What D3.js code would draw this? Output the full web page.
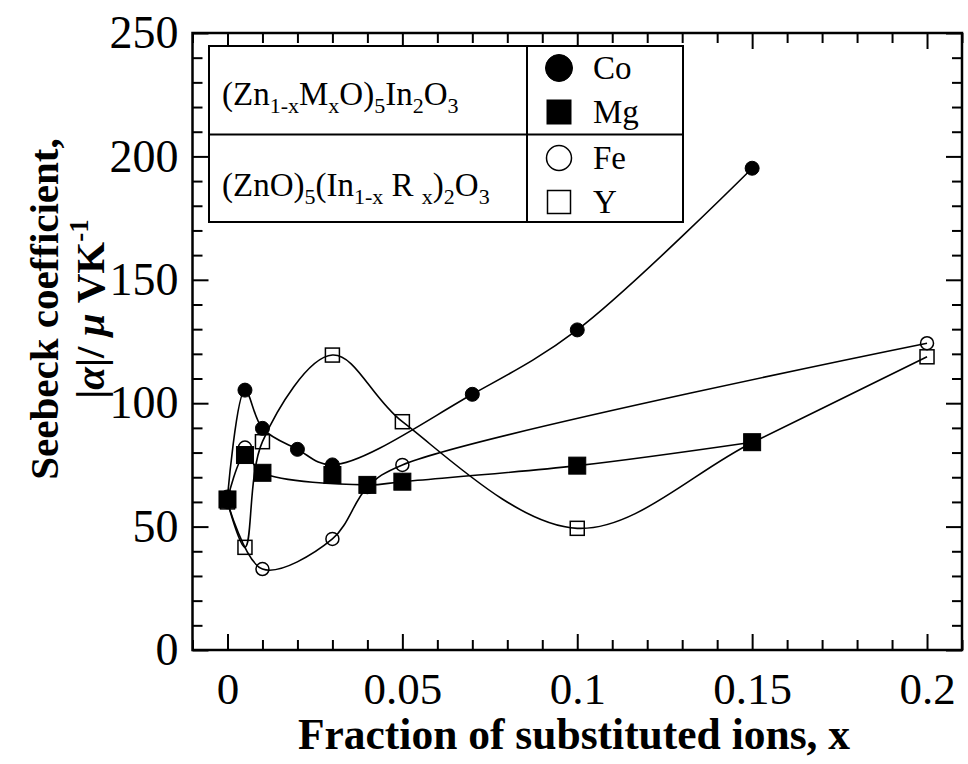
<!DOCTYPE html>
<html>
<head>
<meta charset="utf-8">
<script src="https://cdn.jsdelivr.net/npm/d3@7"></script>
<style>
  html, body { margin: 0; padding: 0; background: #fff; }
  svg { display: block; }
  text { font-family: "Liberation Serif", "Times New Roman", serif; fill: #000; }
</style>
</head>
<body>
<svg id="chart" width="968" height="764"></svg>
<script>
// ---------------- data ----------------
const xTicks = [0, 0.05, 0.1, 0.15, 0.2];
const xTickLabels = ["0", "0.05", "0.1", "0.15", "0.2"];
const yTicks = [0, 50, 100, 150, 200, 250];
const yTickLabels = ["0", "50", "100", "150", "200", "250"];

const xCo = [0, 0.005, 0.01, 0.02, 0.03, 0.07, 0.1, 0.15];
const yCo = [62, 105.3, 89.8, 81.3, 75, 103.6, 129.7, 195.2];

const xMg = [0, 0.005, 0.01, 0.03, 0.04, 0.05, 0.1, 0.15];
const yMg = [61, 79, 71.8, 70.9, 66.9, 68.2, 74.7, 84.2];

const xFe = [0, 0.005, 0.01, 0.03, 0.04, 0.05, 0.2];
const yFe = [60, 82, 32.8, 45, 66, 75, 124.3];

const xY = [0, 0.005, 0.01, 0.03, 0.05, 0.1, 0.15, 0.2];
const yY = [60, 41.6, 84.4, 119.5, 92.5, 49.3, 84, 118.8];

// points left out of the smooth guide curve (kept as markers)
const mgOffCurve = [0.03];
const feOffCurve = [0.005];
const coOffCurve = [];
const yOffCurve = [];

const legendNames = ["Co", "Mg", "Fe", "Y"];

// ---------------- layout ----------------
const svg = d3.select("#chart");
const L = 192.5, R = 962, T = 33, B = 650;
const x = d3.scaleLinear().domain([-0.01, 0.21]).range([L, R]);
const y = d3.scaleLinear().domain([0, 250]).range([B, T]);

svg.append("rect").attr("width", 968).attr("height", 764).attr("fill", "#fff");

const xMinor = d3.range(-0.01, 0.2101, 0.01).map(v => +v.toFixed(3)).filter(v => !xTicks.some(t => Math.abs(t - v) < 1e-6));
const yMinor = d3.range(0, 251, 10).filter(v => v % 50 !== 0);

function styleAxis(g) {
  g.select(".domain").remove();
  g.selectAll(".tick line").attr("stroke", "#000").attr("stroke-width", 2);
}
const MAJ = 16, MIN = 10;

// bottom
svg.append("g").attr("transform", `translate(0,${B})`)
  .call(d3.axisBottom(x).tickValues(xTicks).tickSize(-MAJ).tickPadding(22).tickFormat((d, i) => xTickLabels[i]))
  .call(styleAxis)
  .call(g => g.selectAll("text").attr("font-size", 45).attr("font-family", "Liberation Serif"));
svg.append("g").attr("transform", `translate(0,${B})`)
  .call(d3.axisBottom(x).tickValues(xMinor).tickSize(-MIN).tickFormat(""))
  .call(styleAxis);
// top
svg.append("g").attr("transform", `translate(0,${T})`)
  .call(d3.axisTop(x).tickValues(xTicks).tickSize(-MAJ).tickFormat(""))
  .call(styleAxis);
svg.append("g").attr("transform", `translate(0,${T})`)
  .call(d3.axisTop(x).tickValues(xMinor).tickSize(-MIN).tickFormat(""))
  .call(styleAxis);
// left
svg.append("g").attr("transform", `translate(${L},0)`)
  .call(d3.axisLeft(y).tickValues(yTicks).tickSize(-MAJ).tickPadding(14).tickFormat((d, i) => yTickLabels[i]))
  .call(styleAxis)
  .call(g => g.selectAll("text").attr("font-size", 46).attr("font-family", "Liberation Serif"));
svg.append("g").attr("transform", `translate(${L},0)`)
  .call(d3.axisLeft(y).tickValues(yMinor).tickSize(-MIN).tickFormat(""))
  .call(styleAxis);
// right
svg.append("g").attr("transform", `translate(${R},0)`)
  .call(d3.axisRight(y).tickValues(yTicks).tickSize(-MAJ).tickFormat(""))
  .call(styleAxis);
svg.append("g").attr("transform", `translate(${R},0)`)
  .call(d3.axisRight(y).tickValues(yMinor).tickSize(-MIN).tickFormat(""))
  .call(styleAxis);

// frame
svg.append("rect").attr("x", L).attr("y", T).attr("width", R - L).attr("height", B - T)
  .attr("fill", "none").attr("stroke", "#000").attr("stroke-width", 2.5);

// ---------------- curves ----------------
const line = d3.line().x(d => x(d[0])).y(d => y(d[1])).curve(d3.curveCatmullRom.alpha(0.5));
function curvePts(xs, ys, off) {
  return xs.map((v, i) => [v, ys[i]]).filter(p => !off.some(o => Math.abs(o - p[0]) < 1e-9));
}
const series = [
  { xs: xY, ys: yY, off: yOffCurve, type: "sq", fill: false },
  { xs: xFe, ys: yFe, off: feOffCurve, type: "ci", fill: false },
  { xs: xMg, ys: yMg, off: mgOffCurve, type: "sq", fill: true },
  { xs: xCo, ys: yCo, off: coOffCurve, type: "ci", fill: true }
];
series.forEach(s => {
  svg.append("path").attr("d", line(curvePts(s.xs, s.ys, s.off)))
    .attr("fill", "none").attr("stroke", "#000").attr("stroke-width", 1.6);
});

// ---------------- markers ----------------
series.forEach(s => {
  const pts = s.xs.map((v, i) => [v, s.ys[i]]);
  const g = svg.append("g");
  if (s.type === "ci") {
    g.selectAll("circle").data(pts).join("circle")
      .attr("cx", d => x(d[0])).attr("cy", d => y(d[1]))
      .attr("r", s.fill ? 7 : 6.5)
      .attr("fill", s.fill ? "#000" : "none")
      .attr("stroke", "#000").attr("stroke-width", s.fill ? 1 : 1.5);
  } else {
    const w = s.fill ? 17 : 14;
    g.selectAll("rect").data(pts).join("rect")
      .attr("x", d => x(d[0]) - w / 2).attr("y", d => y(d[1]) - w / 2)
      .attr("width", w).attr("height", w)
      .attr("fill", s.fill ? "#000" : "none")
      .attr("stroke", "#000").attr("stroke-width", s.fill ? 1 : 1.5);
  }
});

// ---------------- legend ----------------
const lg = svg.append("g");
lg.append("rect").attr("x", 209).attr("y", 46).attr("width", 474).attr("height", 176)
  .attr("fill", "#fff").attr("stroke", "#000").attr("stroke-width", 2);
lg.append("line").attr("x1", 209).attr("x2", 683).attr("y1", 134.5).attr("y2", 134.5).attr("stroke", "#000").attr("stroke-width", 2);
lg.append("line").attr("x1", 527).attr("x2", 527).attr("y1", 46).attr("y2", 222).attr("stroke", "#000").attr("stroke-width", 2);

function chem(parent, xPos, yPos, parts) {
  const t = parent.append("text").attr("x", xPos).attr("y", yPos).attr("font-size", 33);
  let shift = 0;
  parts.forEach(p => {
    const sub = p[1];
    const target = sub ? 8 : 0;
    t.append("tspan").attr("dy", target - shift).attr("font-size", sub ? 22 : 33).text(p[0]);
    shift = target;
  });
  return t;
}
chem(lg, 222, 105, [["(Zn", 0], ["1-x", 1], ["M", 0], ["x", 1], ["O)", 0], ["5", 1], ["In", 0], ["2", 1], ["O", 0], ["3", 1]]);
chem(lg, 222, 196, [["(ZnO)", 0], ["5", 1], ["(In", 0], ["1-x", 1], ["\u00a0R\u00a0", 0], ["x", 1], [")", 0], ["2", 1], ["O", 0], ["3", 1]]);

const legY = [68, 112, 158, 202];
const legType = [["ci", true], ["sq", true], ["ci", false], ["sq", false]];
legendNames.forEach((n, i) => {
  const [tp, f] = legType[i];
  if (tp === "ci") {
    lg.append("circle").attr("cx", 559).attr("cy", legY[i]).attr("r", f ? 13.5 : 12.5)
      .attr("fill", f ? "#000" : "none").attr("stroke", "#000").attr("stroke-width", f ? 1 : 1.5);
  } else {
    const w = f ? 24 : 23;
    lg.append("rect").attr("x", 559 - w / 2).attr("y", legY[i] - w / 2).attr("width", w).attr("height", w)
      .attr("fill", f ? "#000" : "none").attr("stroke", "#000").attr("stroke-width", f ? 1 : 1.5);
  }
  lg.append("text").attr("x", 593).attr("y", legY[i] + 11).attr("font-size", 33).text(n);
});

// ---------------- axis titles ----------------
svg.append("text").attr("x", 574).attr("y", 749).attr("text-anchor", "middle")
  .attr("font-size", 43.5).attr("font-weight", "bold").text("Fraction of substituted ions, x");

const yl = svg.append("g").attr("transform", "translate(0,309) rotate(-90)");
yl.append("text").attr("x", 0).attr("y", 58).attr("text-anchor", "middle")
  .attr("font-size", 41).attr("font-weight", "bold").text("Seebeck coefficient,");
const t2 = yl.append("text").attr("x", 0).attr("y", 104).attr("text-anchor", "middle")
  .attr("font-size", 41).attr("font-weight", "bold");
t2.append("tspan").text("|");
t2.append("tspan").attr("font-style", "italic").text("\u03b1");
t2.append("tspan").text("|/ ");
t2.append("tspan").attr("font-style", "italic").text("\u03bc");
t2.append("tspan").text(" VK");
t2.append("tspan").attr("dy", -16).attr("font-size", 27).text("-1");
</script>
</body>
</html>
